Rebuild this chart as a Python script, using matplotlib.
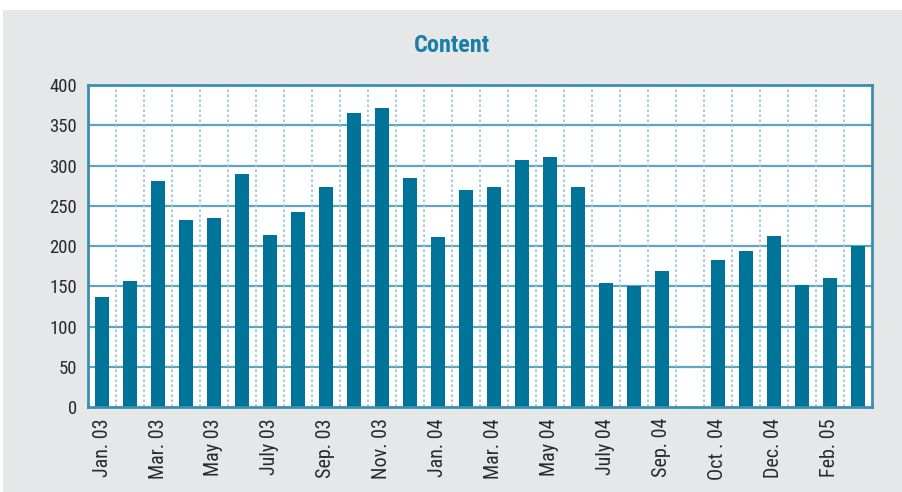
import matplotlib
matplotlib.use("Agg")
import matplotlib.pyplot as plt
from matplotlib.patches import Rectangle
import numpy as np

months = ["Jan. 03", "Feb. 03", "Mar. 03", "Apr. 03", "May 03", "June 03", "July 03", "Aug. 03",
          "Sep. 03", "Oct. 03", "Nov. 03", "Dec. 03", "Jan. 04", "Feb. 04", "Mar. 04", "Apr. 04",
          "May 04", "June 04", "July 04", "Aug. 04", "Sep. 04", "", "Oct . 04", "Nov. 04",
          "Dec. 04", "Jan. 05", "Feb. 05", "Mar. 05"]
values = [137, 157, 281, 232, 235, 290, 214, 242, 273, 365, 371, 284, 211, 269, 273, 307,
          310, 273, 154, 150, 169, np.nan, 182, 194, 212, 152, 160, 200]
shown_labels = ["Jan. 03", "Mar. 03", "May 03", "July 03", "Sep. 03", "Nov. 03", "Jan. 04",
                "Mar. 04", "May 04", "July 04", "Sep. 04", "Oct . 04", "Dec. 04", "Feb. 05"]
yticks = [0, 50, 100, 150, 200, 250, 300, 350, 400]

fam = ["Liberation Sans Narrow", "DejaVu Sans Condensed", "Roboto Condensed", "DejaVu Sans"]

fig = plt.figure(figsize=(9.03, 4.92), dpi=100)
fig.patch.set_facecolor("white")
fig.patches.append(Rectangle((3 / 903, 0), 1, 1 - 10 / 492, transform=fig.transFigure,
                             facecolor="#e6e7e9", edgecolor="none", zorder=-10))

ax = fig.add_axes([88 / 903, 1 - 407 / 492, (872 - 88) / 903, (407 - 85) / 492])
ax.set_zorder(5)
ax.set_facecolor("white")

x = np.arange(len(months))
ax.bar(x, values, width=0.47, color="#007399", zorder=3)

ax.set_xlim(-0.5, len(months) - 0.5)
ax.set_ylim(0, 400)
ax.set_yticks(yticks)
ax.set_yticklabels([str(v) for v in yticks], fontsize=13.5, color="#2a2a2a", family=fam,
                   fontstretch="condensed")

ax.set_xticks(x)
ax.set_xticklabels([m if m in shown_labels else "" for m in months], rotation=90,
                   fontsize=14.5, color="#2a2a2a", family=fam, fontstretch="condensed")
ax.tick_params(axis="y", length=0, pad=8)
ax.tick_params(axis="x", length=0, pad=8)

# horizontal gridlines
for v in yticks[1:-1]:
    ax.axhline(v, color="#5fa3bf", lw=1.6, zorder=1)
# vertical dotted gridlines at slot boundaries
ax.set_xticks(np.arange(0.5, len(months) - 1, 1), minor=True)
ax.tick_params(axis="x", which="minor", length=0)
ax.grid(axis="x", which="minor", color="#8cc4e0", lw=1.2, linestyle=(0, (1.5, 1.5)), zorder=1)
ax.grid(axis="x", which="major", visible=False)

for s in ax.spines.values():
    s.set_color("#3a8fb0")
    s.set_linewidth(2)
    s.set_zorder(4)

fig.text(0.5, 1 - 45 / 492, "Content", ha="center", va="center", fontsize=17.5,
         fontweight="bold", color="#1a7ea6", family=fam, fontstretch="condensed")

fig.savefig("out.png", dpi=100, facecolor=fig.get_facecolor())
